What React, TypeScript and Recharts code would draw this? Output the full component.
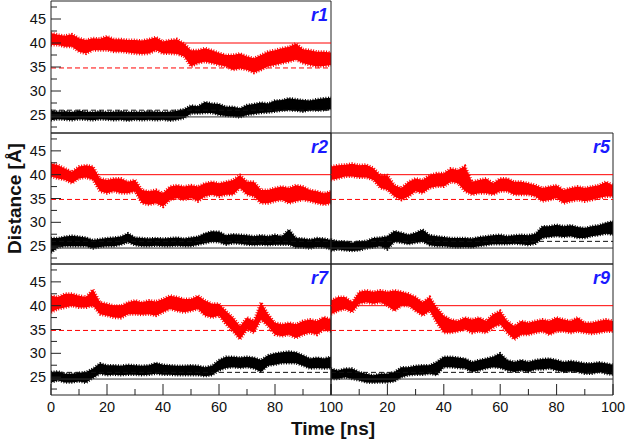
import React from 'react';
import { ComposedChart, Area, XAxis, YAxis, ReferenceLine, ReferenceArea } from 'recharts';

const W = 627;
const H = 439;
const FONT = '"Liberation Sans", Arial, Helvetica, sans-serif';

// time axis (ns)
const time = [0, 2.5, 5, 7.5, 10, 12.5, 15, 17.5, 20, 22.5, 25, 27.5, 30, 32.5, 35, 37.5, 40, 42.5, 45, 47.5, 50,
  52.5, 55, 57.5, 60, 62.5, 65, 67.5, 70, 72.5, 75, 77.5, 80, 82.5, 85, 87.5, 90, 92.5, 95, 97.5, 100];

// [low, high] envelope of each noisy trace
const r1Red = [[39.6, 42.1], [39.6, 41.7], [39.2, 41.5], [39.2, 41.8], [38.2, 41.0], [37.8, 40.6], [38.5, 41.0], [38.5, 40.9],
  [38.5, 41.4], [38.2, 40.8], [38.2, 40.8], [38.0, 40.6], [37.8, 40.6], [37.7, 40.5], [37.8, 40.8], [38.5, 41.2], [37.8, 40.3],
  [37.8, 40.6], [37.7, 40.8], [37.2, 39.9], [35.1, 38.5], [35.8, 38.5], [36.1, 38.9], [35.8, 38.5], [35.4, 37.9], [35.1, 37.5],
  [34.4, 37.5], [34.7, 37.8], [34.4, 37.2], [33.8, 36.8], [34.4, 37.5], [35.1, 38.2], [35.4, 38.5], [35.8, 38.9], [36.1, 39.2],
  [36.5, 39.9], [35.8, 38.7], [35.4, 38.5], [35.1, 38.2], [35.2, 38.2], [35.4, 38.0]];
const r1Black = [[23.9, 25.9], [24.1, 25.7], [24.0, 25.8], [23.9, 25.6], [24.1, 25.9], [24.0, 25.7], [23.9, 25.6], [24.1, 25.8],
  [24.0, 25.6], [23.9, 25.7], [24.0, 25.8], [23.8, 25.6], [24.0, 25.7], [23.9, 25.6], [24.0, 25.8], [23.9, 25.7], [24.0, 25.6],
  [23.8, 25.7], [24.0, 25.9], [24.3, 26.2], [25.3, 27.0], [25.3, 26.8], [25.4, 27.7], [25.4, 27.4], [25.0, 27.3], [24.8, 26.7],
  [24.7, 26.7], [24.5, 26.4], [25.0, 27.1], [25.2, 27.3], [25.4, 27.6], [25.5, 27.4], [25.7, 28.0], [25.9, 28.1], [26.0, 28.5],
  [25.9, 28.3], [25.7, 28.1], [26.0, 28.0], [25.9, 28.3], [26.0, 28.5], [26.2, 28.6]];

const r2Red = [[39.6, 42.4], [39.2, 42.0], [38.9, 41.3], [38.2, 40.6], [39.2, 41.7], [39.4, 42.0], [38.9, 41.7], [36.5, 39.2],
  [36.1, 38.9], [36.5, 39.2], [36.1, 39.2], [36.1, 38.5], [36.5, 38.9], [34.0, 36.8], [33.7, 36.5], [34.0, 36.8], [33.3, 36.1],
  [34.7, 37.5], [35.1, 37.8], [34.7, 37.5], [35.1, 37.8], [34.4, 37.5], [35.4, 38.2], [35.8, 38.5], [35.4, 38.2], [35.8, 38.5],
  [35.8, 38.9], [37.2, 39.9], [35.8, 38.5], [35.4, 38.5], [34.0, 36.8], [34.0, 36.8], [34.4, 37.2], [34.7, 37.5], [34.0, 37.2],
  [34.4, 37.8], [34.7, 37.5], [34.4, 36.8], [34.0, 36.5], [33.7, 36.1], [34.0, 36.5]];
const r2Black = [[23.6, 26.7], [24.7, 26.7], [25.0, 27.0], [25.0, 27.2], [25.0, 27.0], [25.0, 26.8], [24.5, 26.3], [24.8, 26.5],
  [25.0, 26.7], [25.0, 26.8], [25.3, 27.0], [25.8, 27.7], [25.2, 26.8], [25.0, 26.7], [25.0, 26.6], [25.1, 26.7], [25.0, 26.6],
  [25.0, 26.7], [25.1, 26.8], [25.0, 26.6], [25.0, 26.8], [25.3, 27.0], [25.6, 27.7], [25.9, 28.1], [25.8, 28.0], [25.3, 27.3],
  [25.6, 27.5], [25.5, 27.4], [25.3, 27.3], [25.2, 27.1], [25.3, 27.3], [25.2, 27.1], [25.3, 27.4], [25.3, 27.1], [25.3, 28.5],
  [24.7, 26.7], [24.7, 26.6], [24.5, 26.4], [24.8, 26.7], [24.7, 26.6], [24.3, 26.3]];

const r5Red = [[38.9, 41.7], [39.2, 42.0], [39.6, 42.1], [39.6, 42.3], [39.4, 42.0], [39.4, 42.1], [38.9, 41.4], [37.2, 39.9],
  [36.8, 39.9], [35.4, 37.8], [34.7, 37.2], [35.4, 38.5], [36.5, 39.2], [36.1, 38.9], [37.2, 39.9], [37.5, 40.3], [37.5, 40.3],
  [38.5, 41.3], [38.2, 41.0], [36.5, 41.8], [35.8, 38.5], [36.1, 38.9], [36.1, 39.2], [35.8, 38.2], [36.5, 39.2], [36.5, 39.2],
  [35.8, 38.5], [35.8, 38.5], [35.8, 38.2], [35.4, 37.8], [34.4, 37.2], [34.7, 37.5], [35.1, 37.8], [34.0, 36.8], [34.4, 37.2],
  [34.7, 37.5], [34.4, 37.2], [34.7, 37.5], [35.1, 37.8], [35.4, 38.5], [35.4, 37.8]];
const r5Black = [[24.0, 26.4], [24.3, 26.0], [24.1, 26.0], [24.0, 25.7], [24.1, 26.0], [24.5, 26.1], [24.7, 26.7], [25.0, 26.8],
  [24.3, 27.1], [25.9, 28.2], [25.7, 27.8], [25.4, 27.4], [25.7, 27.8], [25.9, 28.5], [25.2, 27.3], [25.0, 27.1], [25.0, 26.9],
  [24.8, 26.7], [24.7, 26.7], [24.8, 26.7], [24.7, 26.6], [25.0, 26.9], [25.2, 27.1], [25.4, 27.3], [25.4, 27.4], [25.4, 27.1],
  [25.5, 27.3], [25.4, 27.4], [25.2, 27.3], [25.5, 27.6], [26.7, 29.2], [26.9, 29.2], [27.1, 29.5], [26.9, 29.2], [27.1, 29.4],
  [26.7, 29.0], [26.7, 28.8], [27.1, 29.2], [27.3, 29.4], [27.6, 29.9], [27.4, 30.2]];

const r7Red = [[38.6, 42.1], [39.3, 41.8], [39.6, 42.5], [40.0, 42.5], [39.6, 42.1], [39.6, 41.8], [40.0, 43.4], [38.2, 40.7],
  [37.9, 40.4], [37.5, 40.0], [37.4, 40.0], [38.2, 40.7], [38.2, 41.1], [38.1, 40.7], [38.2, 41.1], [37.9, 40.9], [38.6, 41.4],
  [39.3, 42.1], [38.9, 41.8], [38.6, 41.4], [38.9, 41.4], [39.3, 42.1], [37.9, 41.1], [37.5, 40.4], [37.9, 40.4], [36.1, 38.9],
  [34.6, 37.5], [32.9, 35.7], [35.0, 37.5], [34.3, 36.8], [37.1, 40.7], [35.7, 38.2], [33.9, 36.4], [33.6, 36.1], [33.9, 36.4],
  [33.2, 36.1], [33.9, 36.8], [34.3, 37.1], [33.9, 36.8], [35.0, 37.6], [34.6, 37.1]];
const r7Black = [[23.9, 26.1], [24.3, 26.2], [23.9, 25.7], [23.9, 25.7], [24.1, 25.9], [23.8, 26.1], [24.8, 26.8], [25.7, 27.9],
  [25.4, 27.5], [25.5, 27.5], [25.4, 27.4], [25.5, 27.6], [25.5, 27.5], [25.4, 27.4], [25.5, 27.5], [25.7, 28.0], [25.5, 27.6],
  [25.5, 27.5], [25.4, 27.4], [25.4, 27.4], [25.4, 27.5], [25.4, 27.4], [25.2, 27.1], [25.4, 27.4], [26.4, 28.6], [26.9, 29.3],
  [27.1, 29.3], [26.9, 29.1], [27.1, 29.3], [26.8, 29.1], [26.1, 28.6], [27.4, 29.6], [27.6, 30.0], [27.9, 30.2], [27.9, 30.4],
  [27.9, 30.2], [27.4, 29.6], [26.8, 28.9], [26.9, 29.1], [26.8, 28.9], [26.9, 29.3]];

const r9Red = [[38.2, 41.1], [38.9, 41.8], [39.3, 41.8], [38.6, 40.7], [40.4, 42.9], [40.7, 43.2], [40.4, 42.9], [40.7, 43.2],
  [40.0, 42.9], [38.9, 43.2], [40.0, 42.9], [40.0, 42.5], [38.9, 41.8], [37.9, 40.7], [38.9, 41.8], [36.4, 39.6], [34.3, 37.9],
  [34.3, 37.1], [34.6, 36.8], [35.0, 37.5], [34.3, 37.1], [34.6, 37.5], [34.3, 36.8], [35.4, 38.2], [36.1, 38.9], [34.3, 36.8],
  [32.9, 35.7], [33.9, 36.8], [33.9, 36.4], [34.3, 36.8], [34.6, 37.1], [33.9, 36.8], [34.6, 37.5], [34.6, 37.1], [34.3, 36.8],
  [34.6, 37.5], [34.3, 36.4], [34.1, 36.4], [34.3, 36.8], [34.6, 37.1], [34.6, 36.8]];
const r9Black = [[24.6, 26.8], [24.6, 26.4], [25.0, 26.8], [24.6, 26.8], [24.3, 26.1], [23.9, 25.7], [23.8, 25.4], [23.9, 25.7],
  [23.9, 25.7], [24.1, 26.1], [25.0, 27.1], [25.4, 27.1], [25.5, 27.4], [25.5, 27.5], [25.7, 27.5], [25.4, 28.2], [27.1, 29.3],
  [27.1, 29.3], [26.9, 29.1], [26.8, 28.9], [26.1, 28.2], [26.4, 28.6], [26.8, 28.9], [27.1, 29.3], [26.9, 30.0], [26.4, 28.6],
  [26.1, 28.2], [26.4, 28.6], [26.1, 28.2], [26.6, 28.6], [26.6, 28.8], [26.8, 28.9], [26.4, 28.6], [26.1, 28.2], [26.2, 28.4],
  [26.1, 28.2], [25.7, 27.9], [25.7, 27.9], [26.1, 28.1], [25.7, 27.9], [25.5, 27.6]];

// reference distances
const redSolidRef = 40;
const redDashedRef = 34.8;
const blackDashedRef = 26.0;
const blackSolidRef = 24.6;

// axes
const yDomain = [21.25, 48.75];
const yTicks = [22.5, 25, 27.5, 30, 32.5, 35, 37.5, 40, 42.5, 45, 47.5];
const xTicks = [0, 10, 20, 30, 40, 50, 60, 70, 80, 90, 100];

type PanelDef = {
  name: string;
  red: number[][];
  black: number[][];
  box: [number, number, number, number]; // left, top, right, bottom in px
  showX: boolean;
  showY: boolean;
  skipZero: boolean;
};

const panels: PanelDef[] = [
  { name: 'r1', red: r1Red, black: r1Black, box: [51, 1, 331, 133], showX: false, showY: true, skipZero: false },
  { name: 'r2', red: r2Red, black: r2Black, box: [51, 133, 331, 264], showX: false, showY: true, skipZero: false },
  { name: 'r5', red: r5Red, black: r5Black, box: [331, 133, 613, 264], showX: false, showY: false, skipZero: false },
  { name: 'r7', red: r7Red, black: r7Black, box: [51, 264, 331, 395], showX: true, showY: true, skipZero: false },
  { name: 'r9', red: r9Red, black: r9Black, box: [331, 264, 613, 395], showX: true, showY: false, skipZero: true },
];

const Y_AXIS_W = 40;
const X_AXIS_H = 30;
const AXIS_COLOR = '#222';

const YTick = (props: any) => {
  const { x, y, payload } = props;
  const v = payload.value;
  const major = Math.abs(v % 5) < 1e-6;
  return (
    <g>
      <line x1={x} x2={x + (major ? 10 : 6)} y1={y} y2={y} stroke={AXIS_COLOR} strokeWidth={1} />
      {major && (
        <text x={x - 5} y={y} dy={5} textAnchor="end" fontSize={14.5} fontFamily={FONT} fill="#111">
          {v}
        </text>
      )}
    </g>
  );
};

const makeXTick = (skipZero: boolean) => (props: any) => {
  const { x, y, payload } = props;
  const v = payload.value;
  const major = v % 20 === 0;
  return (
    <g>
      <line x1={x} x2={x} y1={y} y2={y - (major ? 11 : 6)} stroke={AXIS_COLOR} strokeWidth={1} />
      {major && !(skipZero && v === 0) && (
        <text x={x} y={y + 17} textAnchor="middle" fontSize={14.5} fontFamily={FONT} fill="#111">
          {v}
        </text>
      )}
    </g>
  );
};

const Panel = ({ p }: { p: PanelDef }) => {
  const [l, t, r, b] = p.box;
  const data = time.map((tm, i) => ({ t: tm, red: p.red[i], black: p.black[i] }));
  const margin = {
    top: t,
    right: W - r,
    bottom: H - b - (p.showX ? X_AXIS_H : 0),
    left: l - (p.showY ? Y_AXIS_W : 0),
  };
  return (
    <div style={{ position: 'absolute', left: 0, top: 0 }}>
      <ComposedChart width={W} height={H} data={data} margin={margin}>
        <XAxis
          dataKey="t"
          type="number"
          domain={[0, 100]}
          ticks={xTicks}
          interval={0}
          hide={!p.showX}
          height={X_AXIS_H}
          axisLine={false}
          tickLine={false}
          tickSize={0}
          tickMargin={0}
          tick={makeXTick(p.skipZero)}
          allowDataOverflow
        />
        <YAxis
          type="number"
          domain={yDomain}
          ticks={yTicks}
          interval={0}
          hide={!p.showY}
          width={Y_AXIS_W}
          axisLine={false}
          tickLine={false}
          tickSize={0}
          tickMargin={0}
          tick={YTick}
          allowDataOverflow
        />
        <ReferenceLine y={redSolidRef} stroke="#ff0000" strokeWidth={1} />
        <ReferenceLine y={redDashedRef} stroke="#ff0000" strokeWidth={1} strokeDasharray="5 3" />
        <ReferenceLine y={blackDashedRef} stroke="#111" strokeWidth={1} strokeDasharray="5 3" />
        <ReferenceLine y={blackSolidRef} stroke="#333" strokeWidth={1} />
        <Area
          dataKey="red"
          type="linear"
          stroke="#ff0000"
          fill="#ff0000"
          fillOpacity={1}
          strokeWidth={3}
          strokeDasharray="1 1.6"
          dot={false}
          activeDot={false}
          isAnimationActive={false}
        />
        <Area
          dataKey="black"
          type="linear"
          stroke="#000"
          fill="#000"
          fillOpacity={1}
          strokeWidth={2.5}
          strokeDasharray="1 1.6"
          dot={false}
          activeDot={false}
          isAnimationActive={false}
        />
        <ReferenceArea
          x1={0}
          x2={100}
          y1={yDomain[0]}
          y2={yDomain[1]}
          fill="none"
          fillOpacity={0}
          stroke={AXIS_COLOR}
          strokeWidth={1}
          ifOverflow="visible"
        />
      </ComposedChart>
    </div>
  );
};

export default function App() {
  return (
    <div style={{ position: 'absolute', left: 0, top: 0, width: W, height: H, background: '#fff', overflow: 'hidden' }}>
      {panels.map((p) => (
        <Panel key={p.name} p={p} />
      ))}
      <svg
        width={W}
        height={H}
        style={{ position: 'absolute', left: 0, top: 0, pointerEvents: 'none' }}
      >
        {panels.map((p) => (
          <text
            key={p.name}
            x={p.box[2] - 3}
            y={p.box[1] + 20}
            textAnchor="end"
            fontSize={18}
            fontWeight="bold"
            fontStyle="italic"
            fontFamily={FONT}
            fill="#1a1aff"
          >
            {p.name}
          </text>
        ))}
        <text x={333} y={435} textAnchor="middle" fontSize={19} fontWeight="bold" fontFamily={FONT} fill="#111">
          Time [ns]
        </text>
        <text
          x={21}
          y={198.5}
          transform="rotate(-90 21 198.5)"
          textAnchor="middle"
          fontSize={19}
          fontWeight="bold"
          fontFamily={FONT}
          fill="#111"
        >
          Distance [Å]
        </text>
      </svg>
    </div>
  );
}
